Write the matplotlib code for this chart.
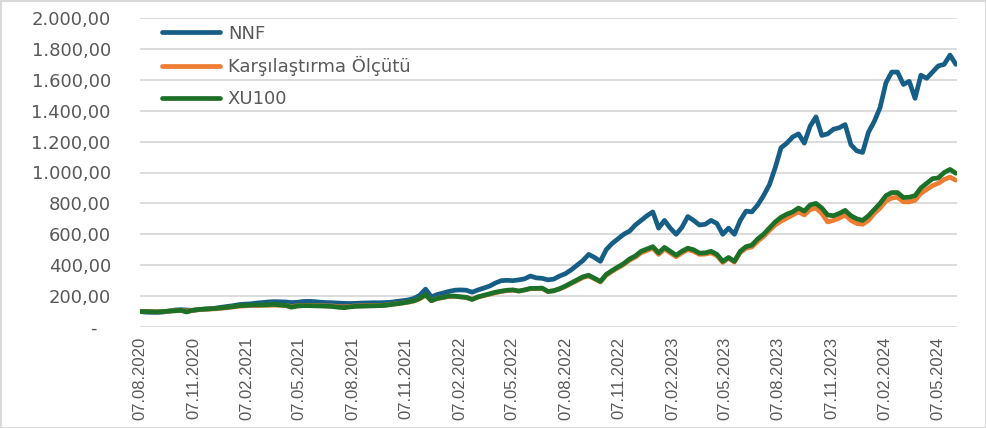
import matplotlib
matplotlib.use("Agg")
import matplotlib.pyplot as plt
from matplotlib.transforms import ScaledTranslation
import pandas as pd

# ---- data ----
start_date = "2020-08-07"
step_days = 10
n_points = 141

nnf = [100, 96, 95, 95, 97, 103, 110, 112, 110, 108,
       112, 115, 118, 122, 128, 133, 138, 145, 148, 150,
       155, 158, 162, 164, 163, 162, 158, 160, 165, 166,
       164, 160, 158, 157, 155, 153, 152, 153, 155, 156,
       157, 157, 158, 160, 165, 170, 175, 185, 205, 245,
       195, 210, 220, 230, 238, 240, 238, 225, 240, 252,
       265, 285, 300, 302, 300, 305, 312, 330, 318, 315,
       305, 310, 330, 345, 370, 400, 430, 470, 450, 425,
       500, 540, 570, 600, 620, 660, 690, 720, 745, 640,
       690, 640, 600, 645, 715, 690, 660, 665, 690, 670,
       600, 640, 600, 690, 750, 745, 790, 850, 920, 1030,
       1160, 1190, 1230, 1250, 1190, 1300, 1360, 1240, 1250, 1280,
       1290, 1310, 1180, 1140, 1130, 1260, 1330, 1420, 1580, 1650,
       1650, 1570, 1590, 1480, 1630, 1610, 1650, 1690, 1700, 1760,
       1700]

xu100 = [100, 100, 99, 98, 100, 103, 105, 108, 97, 108,
         113, 116, 118, 120, 124, 128, 132, 138, 140, 141,
         143, 142, 144, 146, 143, 140, 128, 136, 138, 138,
         137, 136, 135, 133, 128, 125, 130, 134, 135, 136,
         137, 138, 140, 145, 150, 155, 162, 170, 185, 210,
         170, 185, 192, 200, 200, 195, 192, 178, 195, 205,
         215, 225, 232, 238, 240, 233, 240, 250, 250, 252,
         230, 235, 248, 265, 285, 305, 325, 335, 315, 295,
         340, 365, 388, 410, 440, 460, 490, 505, 520, 480,
         515, 490, 465, 490, 510, 500, 478, 480, 490, 470,
         425, 450, 425, 490, 520, 530, 570, 600, 640, 680,
         710, 730, 745, 770, 750, 790, 800, 770, 725, 720,
         735, 755, 720, 700, 690, 720, 760, 800, 850, 870,
         870, 838, 840, 850, 900, 930, 960, 965, 1000, 1020,
         995]

benchmark = [100, 100, 99, 98, 100, 103, 105, 107, 103, 108,
             112, 115, 116, 118, 121, 125, 130, 134, 137, 140,
             138, 141, 140, 142, 140, 139, 132, 137, 139, 140,
             139, 138, 137, 136, 132, 130, 133, 136, 137, 138,
             139, 140, 141, 146, 150, 155, 160, 168, 183, 205,
             170, 185, 190, 198, 198, 195, 190, 180, 193, 203,
             212, 222, 230, 236, 238, 232, 240, 248, 248, 250,
             230, 234, 246, 262, 282, 300, 320, 330, 312, 292,
             335, 360, 383, 405, 432, 452, 480, 495, 510, 470,
             505, 480, 455, 480, 500, 490, 470, 472, 480, 462,
             418, 445, 420, 482, 510, 518, 555, 585, 625, 660,
             685, 705, 725, 745, 725, 760, 770, 735, 680, 690,
             705, 725, 690, 670, 665, 690, 735, 770, 815, 835,
             840, 810, 810, 820, 865, 890, 915, 930, 955, 970,
             950]

series_names = ["NNF", "Karşılaştırma Ölçütü", "XU100"]
tick_dates = ["2020-08-07", "2020-11-07", "2021-02-07", "2021-05-07",
              "2021-08-07", "2021-11-07", "2022-02-07", "2022-05-07",
              "2022-08-07", "2022-11-07", "2023-02-07", "2023-05-07",
              "2023-08-07", "2023-11-07", "2024-02-07", "2024-05-07"]
y_ticks = [0, 200, 400, 600, 800, 1000, 1200, 1400, 1600, 1800, 2000]

dates = pd.date_range(start_date, periods=n_points, freq=f"{step_days}D")

plt.rcParams["font.family"] = ["DejaVu Sans"]

W, H = 987, 428
fig = plt.figure(figsize=(W / 100, H / 100), dpi=100)
ax = fig.add_axes([140 / W, 1 - 327 / H, (957 - 140) / W, (327 - 18) / H])

c_nnf = "#175e86"
c_bm = "#ee7d31"
c_xu = "#1c7027"
lw = 3.4

ax.plot(dates, nnf, color=c_nnf, lw=lw, solid_capstyle="round", solid_joinstyle="round", label=series_names[0], zorder=3)
ax.plot(dates, benchmark, color=c_bm, lw=lw, solid_capstyle="round", solid_joinstyle="round", label=series_names[1], zorder=3)
ax.plot(dates, xu100, color=c_xu, lw=lw, solid_capstyle="round", solid_joinstyle="round", label=series_names[2], zorder=4)

t0 = pd.Timestamp(start_date)
ax.set_xlim(t0, t0 + pd.Timedelta(days=1402))
ax.set_ylim(0, 2000)

for s in ax.spines.values():
    s.set_visible(False)

ax.set_yticks(y_ticks)
def tr_fmt(v):
    if v == 0:
        return "-"
    s = f"{v:,.2f}"
    return s.replace(",", "X").replace(".", ",").replace("X", ".")
ax.set_yticklabels([tr_fmt(v) for v in y_ticks])
ax.tick_params(axis="y", length=0, pad=21, labelsize=13, labelcolor="#595959")
for lab in ax.get_yticklabels():
    if lab.get_text() == "-":
        lab.set_transform(lab.get_transform() + ScaledTranslation(-14 / 100, 0, fig.dpi_scale_trans))

xt = pd.to_datetime(tick_dates)
ax.set_xticks(xt)
ax.set_xticklabels([d.strftime("%d.%m.%Y") for d in xt], rotation=90,
                   fontfamily=["Liberation Sans", "DejaVu Sans"], fontsize=12, color="#595959")
ax.tick_params(axis="x", length=0, pad=7)

ax.grid(axis="y", color="#d9d9d9", lw=1.3)
ax.grid(axis="x", visible=False)
ax.set_axisbelow(True)

leg = ax.legend(loc="upper left", bbox_to_anchor=(0.027, 0.978), frameon=False,
                fontsize=13, handlelength=3.2, handletextpad=0.45, labelspacing=0.75,
                borderpad=0, borderaxespad=0)
for t in leg.get_texts():
    t.set_color("#595959")
for h in leg.legend_handles:
    h.set_linewidth(3.4)

fig.patches.append(plt.Rectangle((0.001, 0.001), 0.998, 0.997, transform=fig.transFigure,
                                 fill=False, edgecolor="#d9d9d9", lw=1.5))

fig.savefig("out.png", dpi=100)
